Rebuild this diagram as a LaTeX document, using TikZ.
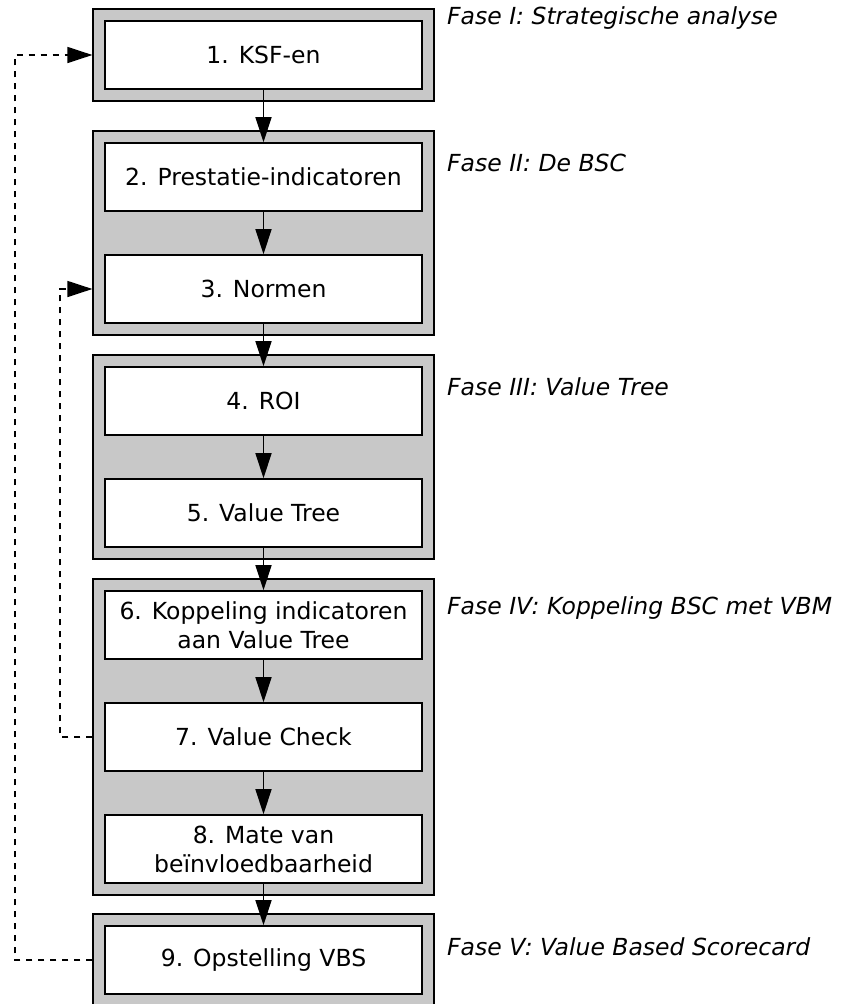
\documentclass[tikz,border=0pt]{standalone}
\usepackage{fontspec}
\setmainfont{DejaVu Sans}
\usetikzlibrary{arrows.meta,fit,backgrounds}
\definecolor{fasegrijs}{RGB}{200,200,200}
\begin{document}
\begin{tikzpicture}[x=1pt,y=-1pt,
 stap/.style={draw,line width=1.6pt,fill=white,minimum width=317pt,minimum height=68pt,inner sep=0pt,align=center,font=\fontsize{23.5}{29}\selectfont},
 fase/.style={draw,line width=1.6pt,fill=fasegrijs,inner sep=11pt},
 faselabel/.style={anchor=base west,inner sep=0pt,font=\fontsize{23.5}{29}\selectfont\itshape},
 pijl/.style={line width=1.6pt,-{Triangle[length=25pt,width=16pt]}},
 terug/.style={pijl,line width=1.4pt,dash pattern=on 6pt off 6pt}]
 \useasboundingbox (0,0) rectangle (849,1004);
 \node[stap] (s1) at (263.5,55) {1. KSF-en};
 \node[stap] (s2) at (263.5,177) {2. Prestatie-indicatoren};
 \node[stap] (s3) at (263.5,289) {3. Normen};
 \node[stap] (s4) at (263.5,401) {4. ROI};
 \node[stap] (s5) at (263.5,513) {5. Value Tree};
 \node[stap] (s6) at (263.5,625) {6. Koppeling indicatoren\\aan Value Tree};
 \node[stap] (s7) at (263.5,737) {7. Value Check};
 \node[stap] (s8) at (263.5,849) {8. Mate van\\beïnvloedbaarheid};
 \node[stap] (s9) at (263.5,960) {9. Opstelling VBS};
 \begin{scope}[on background layer]
  \node[fase,fit=(s1)] (f1) {};
  \node[fase,fit=(s2)(s3)] (f2) {};
  \node[fase,fit=(s4)(s5)] (f3) {};
  \node[fase,fit=(s6)(s8)] (f4) {};
  \node[fase,fit=(s9)] (f5) {};
 \end{scope}
 \node[faselabel] (l1) at (447,24) {Fase I: Strategische analyse};
 \node[faselabel] (l2) at (447,171) {Fase II: De BSC};
 \node[faselabel] (l3) at (447,395) {Fase III: Value Tree};
 \node[faselabel] (l4) at (447,614) {Fase IV: Koppeling BSC met VBM};
 \node[faselabel] (l5) at (447,955) {Fase V: Value Based Scorecard};
 \draw[pijl] (s1) -- (s2);
 \draw[pijl] (s2) -- (s3);
 \draw[pijl] (s3) -- (s4);
 \draw[pijl] (s4) -- (s5);
 \draw[pijl] (s5) -- (s6);
 \draw[pijl] (s6) -- (s7);
 \draw[pijl] (s7) -- (s8);
 \draw[pijl] (s8) -- (s9);
 \coordinate (terug1) at (15,0);
 \coordinate (terug2) at (60,0);
 \draw[terug] (f5.west |- s9) -- (s9 -| terug1) |- (f1.west |- s1);
 \draw[terug] (f4.west |- s7) -- (s7 -| terug2) |- (f2.west |- s3);
\end{tikzpicture}
\end{document}
